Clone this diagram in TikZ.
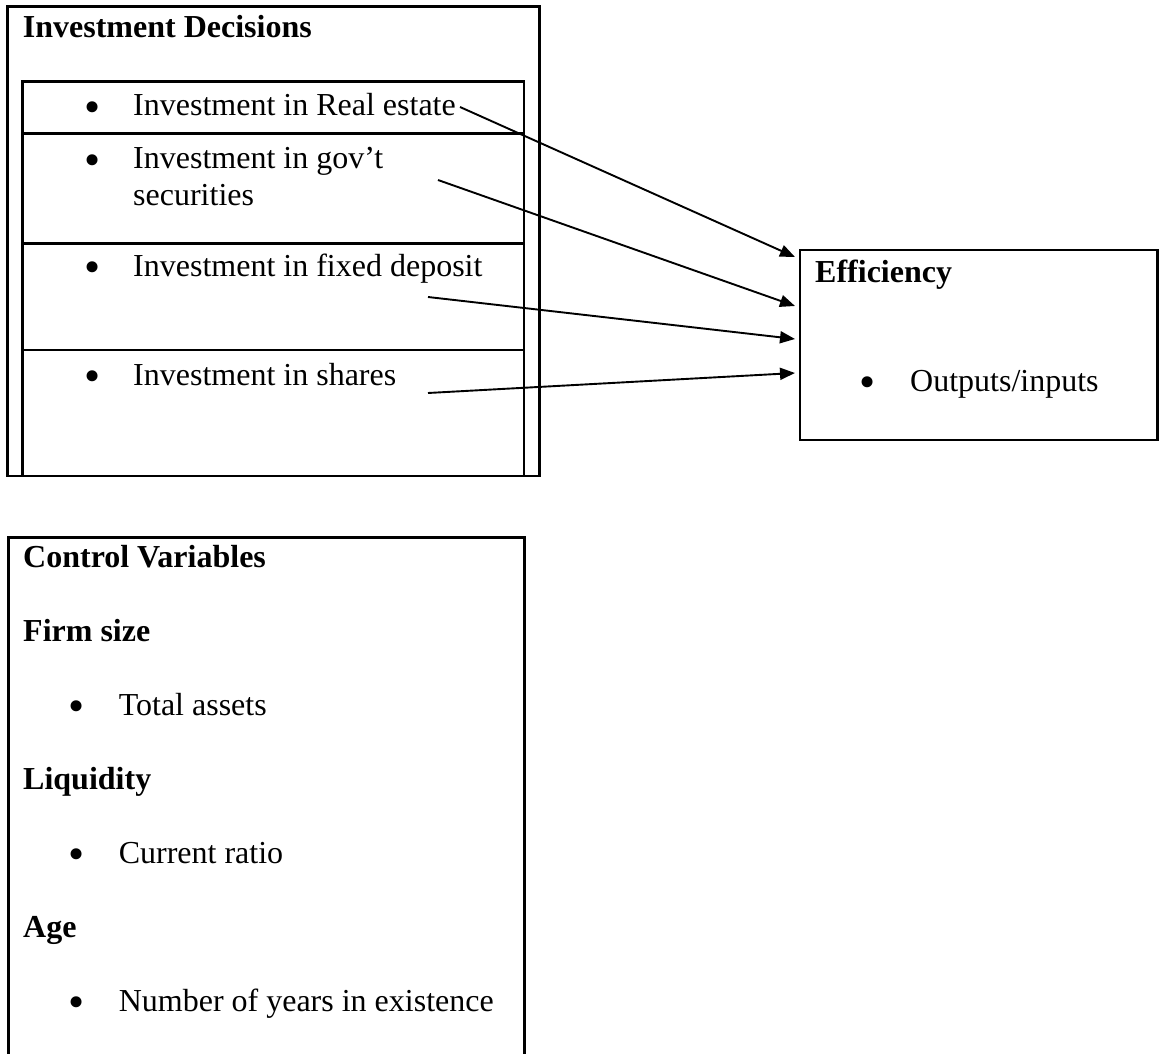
\documentclass[tikz,border=0pt]{standalone}
\usepackage{fontspec}
\setmainfont{Liberation Serif}
\usetikzlibrary{arrows.meta,calc}
\begin{document}
\begin{tikzpicture}[x=1pt,y=-1pt,
  frame/.style={draw, line width=2.6pt, inner sep=0pt, outer sep=0pt, anchor=north west},
  txt/.style={font=\fontsize{32}{37}\selectfont, inner sep=0pt, anchor=base west},
  hd/.style={font=\fontsize{32}{37}\selectfont\bfseries, inner sep=0pt, anchor=base west},
  bul/.style={font=\fontsize{46}{46}\selectfont, inner sep=0pt, anchor=base, yshift=-6.5pt},
  conn/.style={line width=1.9pt, -{Triangle[length=15pt,width=12pt]}},
  rowrule/.style={line width=2.6pt}
]
\useasboundingbox (0,0) rectangle (1160,1054);
\clip (0,0) rectangle (1160,1054);

% boxes
\node[frame, minimum width=532pt, minimum height=469.3pt] (outer) at (7.3,6.7) {};
\node[frame, minimum width=501.3pt, minimum height=394.3pt] (inner) at (22.7,81.7) {};
\coordinate (r1) at (0,133.3);
\coordinate (r2) at (0,243.3);
\coordinate (r3) at (0,350);
\draw[rowrule] (inner.west |- r1) -- (inner.east |- r1);
\draw[rowrule] (inner.west |- r2) -- (inner.east |- r2);
\draw[rowrule] (inner.west |- r3) -- (inner.east |- r3);
\node[frame, minimum width=357.5pt, minimum height=190pt] (eff) at (800,250) {};
\node[frame, minimum width=516pt, minimum height=600pt] (ctrl) at (8.3,537.3) {};

% investment texts
\node[hd] (title) at (22.7,38) {Investment Decisions};
\node[bul] (b1) at (92.7,116) {•};
\node[txt] (t1) at (133,116) {Investment in Real estate};
\node[bul] (b2) at (92.7,169) {•};
\node[txt] (t2) at (133,169) {Investment in gov’t};
\node[txt] (t2b) at (133,206) {securities};
\node[bul] (b3) at (92.7,276) {•};
\node[txt] (t3) at (133,276) {Investment in fixed deposit};
\node[bul] (b4) at (92.7,385) {•};
\node[txt] (t4) at (133,385) {Investment in shares};

% efficiency
\node[hd] (efft) at (815,282) {Efficiency};
\node[bul] (b5) at (868,391) {•};
\node[txt] (t5) at (910,391) {Outputs/inputs};

% control variables
\node[hd] (c0) at (23,567) {Control Variables};
\node[hd] (c1) at (23,641) {Firm size};
\node[bul] (b6) at (77,715) {•};
\node[txt] (c2) at (118.6,715) {Total assets};
\node[hd] (c3) at (23,789) {Liquidity};
\node[bul] (b7) at (77,863) {•};
\node[txt] (c4) at (118.6,863) {Current ratio};
\node[hd] (c5) at (23,937) {Age};
\node[bul] (b8) at (77,1011) {•};
\node[txt] (c6) at (118.6,1011) {Number of years in existence};

% connectors
\coordinate (s1) at (460,107);
\coordinate (s2) at (438,180);
\coordinate (s3) at (428,297);
\coordinate (s4) at (428,393);
\coordinate (e1) at ([xshift=-5pt]eff.west |- 0,257);
\coordinate (e2) at ([xshift=-5pt]eff.west |- 0,306);
\coordinate (e3) at ([xshift=-5pt]eff.west |- 0,339);
\coordinate (e4) at ([xshift=-5pt]eff.west |- 0,373);
\draw[conn] (s1) -- (e1);
\draw[conn] (s2) -- (e2);
\draw[conn] (s3) -- (e3);
\draw[conn] (s4) -- (e4);
\end{tikzpicture}
\end{document}
